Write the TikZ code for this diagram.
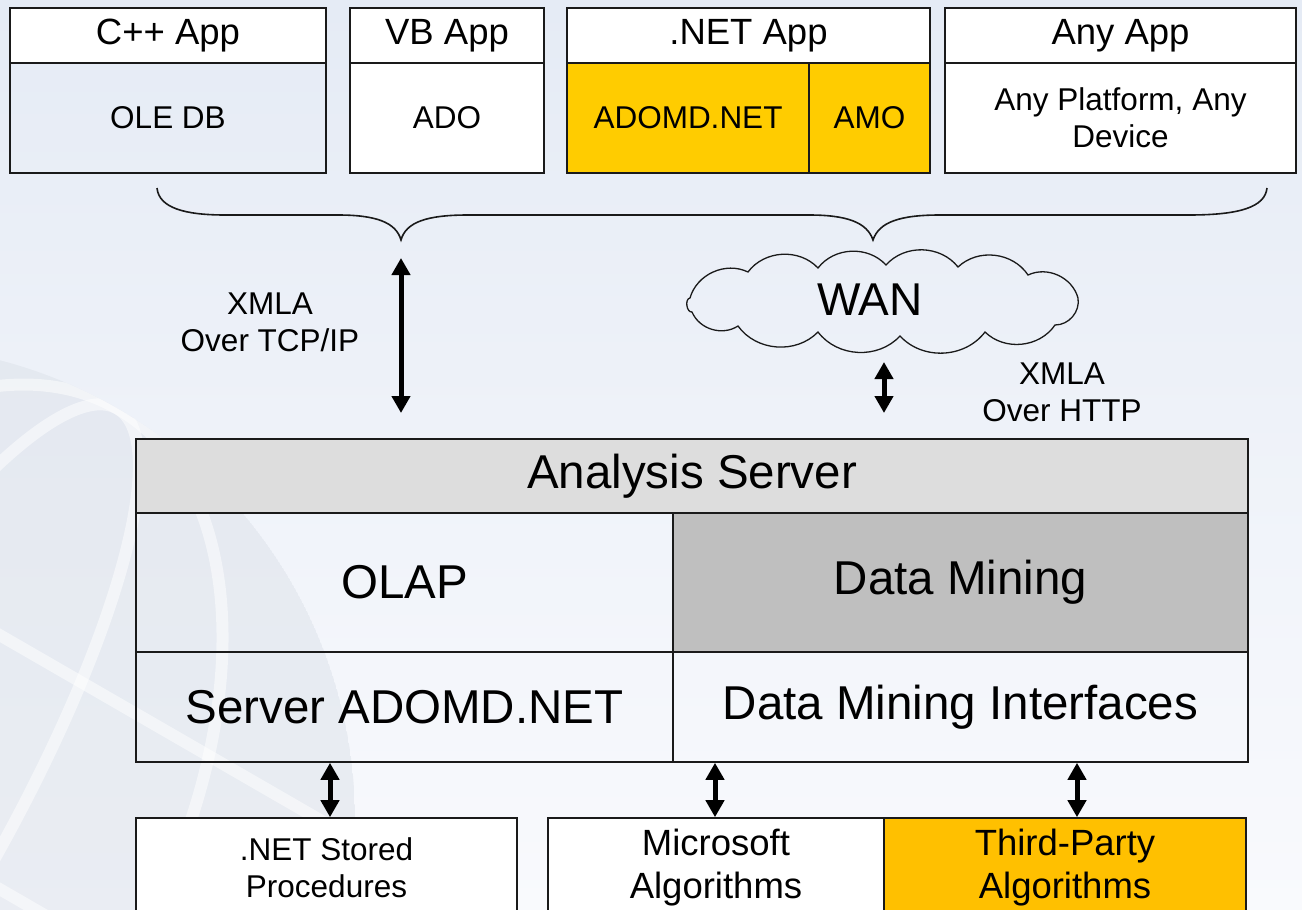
\documentclass[tikz,border=0pt]{standalone}
\usepackage{fontspec}
\setmainfont{Liberation Sans}
\usetikzlibrary{arrows.meta}

\definecolor{bgtop}{RGB}{229,235,245}
\definecolor{bgbot}{RGB}{249,250,253}
\definecolor{globe}{RGB}{222,227,235}
\definecolor{boxline}{RGB}{26,26,26}
\definecolor{gold}{RGB}{255,204,0}
\definecolor{amber}{RGB}{255,192,0}
\definecolor{srvgray}{RGB}{221,221,221}
\definecolor{mingray}{RGB}{191,191,191}

\newcommand{\sizeS}{\fontsize{31.5}{37}\selectfont}
\newcommand{\sizeM}{\fontsize{36.5}{43}\selectfont}
\newcommand{\sizeL}{\fontsize{47.5}{56}\selectfont}

\tikzset{
	box/.style={draw=boxline, line width=1.6pt, inner sep=0pt, align=center, anchor=center},
	dbl/.style={line width=5pt, {Triangle[width=18pt,length=17pt]}-{Triangle[width=18pt,length=17pt]}},
	brace/.style={draw=boxline, line width=1.6pt},
	puff/.style={bend left=50},
	globeline/.style={white, line width=12pt, opacity=0.5}
}

\begin{document}
\begin{tikzpicture}[x=1pt,y=-1pt]
%
	\useasboundingbox (0,0) rectangle (1302,910);
	\clip (0,0) rectangle (1302,910);
	\fill[top color=bgtop, bottom color=bgbot] (0,0) rectangle (1302,910);
%
	\begin{scope}
		\clip (-120,820) circle (475pt);
		\fill[globe, opacity=0.55] (-120,820) circle (475pt);
		\foreach \k in {0.25,0.6}
			\draw[globeline, rotate around={-30:(-120,820)}] (-120,820) ellipse ({475pt*\k} and 475pt);
		\foreach \d in {-220,0,220}
			\draw[globeline, rotate around={-30:(-120,820)}] (-600,820+\d) -- (400,820+\d);
	\end{scope}
%
	\node[box, minimum width=316pt, minimum height=55pt, fill=white, font=\sizeM] (cpphead) at (168,35.5) {C++ App};
	\node[box, minimum width=316pt, minimum height=110pt, font=\sizeS] (cppbody) at (168,118) {OLE DB};
	\node[box, minimum width=194pt, minimum height=55pt, fill=white, font=\sizeM] (vbhead) at (447,35.5) {VB App};
	\node[box, minimum width=194pt, minimum height=110pt, fill=white, font=\sizeS] (vbbody) at (447,118) {ADO};
	\node[box, minimum width=363pt, minimum height=55pt, fill=white, font=\sizeM] (nethead) at (748.5,35.5) {.NET App};
	\node[box, minimum width=242pt, minimum height=110pt, fill=gold, font=\sizeS] (adomd) at (688,118) {ADOMD.NET};
	\node[box, minimum width=121pt, minimum height=110pt, fill=gold, font=\sizeS] (amo) at (869.5,118) {AMO};
	\node[box, minimum width=351pt, minimum height=55pt, fill=white, font=\sizeM] (anyhead) at (1120.5,35.5) {Any App};
	\node[box, minimum width=351pt, minimum height=110pt, fill=white, font=\sizeS] (anybody) at (1120.5,118) {Any Platform, Any\\Device};
%
	\coordinate (cusp1) at (401,240);
	\coordinate (cusp2) at (873,240);
	\draw[brace] (157,188) .. controls (159,208) and (185,215) .. (225,215) -- (338,215)
		.. controls (375,215) and (396,222) .. (cusp1) .. controls (406,222) and (427,215) .. (468,215) -- (809,215)
		.. controls (846,215) and (867,222) .. (cusp2) .. controls (879,222) and (900,215) .. (940,215) -- (1189,215)
		.. controls (1240,215) and (1265,207) .. (1267,188);
%
	% WAN cloud
	\draw[boxline, line width=1.3pt] (690,298) to[puff] (748,272) to[puff] (818,268) to[puff] (886,265)
		to[puff] (958,267) to[puff] (1028,275) to[puff] (1078,298) to[puff] (1055,325)
		to[puff] (985,332) to[puff] (900,336) to[puff] (818,332) to[puff] (738,326)
		to[puff] (692,312) to[bend left=90] cycle;
	\node[inner sep=0pt, font=\fontsize{46}{54}\selectfont] (wan) at (870,300) {WAN};
	\node[align=center, inner sep=0pt, font=\sizeS] (tcplabel) at (270,322) {XMLA\\Over TCP/IP};
	\node[align=center, inner sep=0pt, font=\sizeS] (httplabel) at (1062,392) {XMLA\\Over HTTP};
%
	\node[box, minimum width=1112pt, minimum height=74pt, fill=srvgray, font=\sizeL] (server) at (692,476) {Analysis Server};
	\node[box, minimum width=537pt, minimum height=139pt, font=\sizeL] (olap) at (404.5,582.5) {OLAP};
	\node[box, minimum width=575pt, minimum height=139pt, fill=mingray, font=\sizeL] (mining) at (960.5,582.5) {Data Mining};
	\node[box, minimum width=537pt, minimum height=110pt, font=\sizeL] (srvadomd) at (404.5,707) {Server ADOMD.NET};
	\node[box, minimum width=575pt, minimum height=110pt, font=\sizeL] (dmi) at (960.5,707) {Data Mining Interfaces};
%
	\node[box, minimum width=381pt, minimum height=100pt, fill=white, font=\sizeS] (stored) at (326.5,868) {.NET Stored\\Procedures};
	\node[box, minimum width=336pt, minimum height=100pt, fill=white, font=\sizeM] (msalgo) at (716,868) {Microsoft\\Algorithms};
	\node[box, minimum width=362pt, minimum height=100pt, fill=amber, font=\sizeM] (thirdalgo) at (1065,868) {Third-Party\\Algorithms};
%
	\coordinate (tcpend) at (401,413);
	\coordinate (httptop) at (884,362);
	\coordinate (httpend) at (884,413);
	\draw[dbl] ([yshift=-18pt]cusp1) -- (tcpend);
	\draw[dbl] (httptop) -- (httpend);
%
	\coordinate (ax1) at (330,0);
	\coordinate (ax2) at (715,0);
	\coordinate (ax3) at (1077,0);
	\draw[dbl] (ax1 |- srvadomd.south) -- (ax1 |- stored.north);
	\draw[dbl] (ax2 |- dmi.south) -- (ax2 |- msalgo.north);
	\draw[dbl] (ax3 |- dmi.south) -- (ax3 |- thirdalgo.north);
\end{tikzpicture}
\end{document}
